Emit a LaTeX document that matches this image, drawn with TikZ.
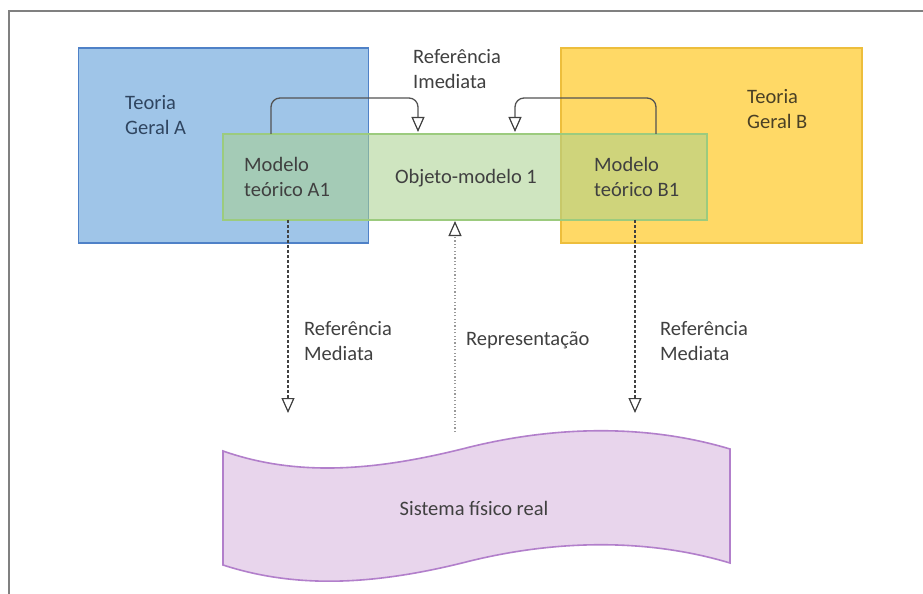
\documentclass[tikz,border=0pt]{standalone}
\usepackage{fontspec}
\setmainfont{Carlito}
\usetikzlibrary{arrows.meta}
\definecolor{blueF}{HTML}{9FC5E8}
\definecolor{blueD}{HTML}{4F81C7}
\definecolor{yelF}{HTML}{FFD966}
\definecolor{yelD}{HTML}{EDBE3C}
\definecolor{grnF}{HTML}{A9D18E}
\definecolor{grnD}{HTML}{9CCB7E}
\definecolor{purF}{HTML}{E8D5EC}
\definecolor{purD}{HTML}{B27FCB}
\definecolor{txt}{HTML}{404040}
\definecolor{txtA}{HTML}{2F4560}
\definecolor{txtB}{HTML}{4A4025}
\definecolor{frameG}{HTML}{808080}
\tikzset{
  lbl/.style={font=\fontsize{20.5bp}{24.5bp}\selectfont, text=txt, align=left, inner sep=0pt, anchor=west},
  boxA/.style={draw=blueD, fill=blueF, line width=1.3bp, inner sep=0pt},
  boxB/.style={draw=yelD, fill=yelF, line width=1.3bp, inner sep=0pt},
  boxG/.style={draw=grnD, fill=grnF, fill opacity=0.55, line width=1.3bp, inner sep=0pt},
  tip/.style={-{Triangle[open, length=15bp, width=13bp, line width=1.2bp, color=txt]}},
  conn/.style={tip, draw=txt!90, line width=1.3bp, rounded corners=9bp},
  dconn/.style={tip, draw=txt, line width=1.1bp, dash pattern=on 3bp off 2bp},
  pconn/.style={tip, draw=gray!80, line width=1.1bp, dash pattern=on 1.2bp off 2.2bp},
}
\begin{document}
\begin{tikzpicture}[x=1bp, y=-1bp]
\useasboundingbox (0,0) rectangle (923,594);
\fill[white] (0,0) rectangle (923,594);
% frame
\draw[frameG, line width=1.6bp] (9,594) -- (9,11) -- (923,11);
% theory boxes
\node[boxA, minimum width=290bp, minimum height=195bp] (TA) at (223.5,145.5) {};
\node[boxB, minimum width=301bp, minimum height=195bp] (TB) at (711.5,145.5) {};
% object-model box
\node[boxG, minimum width=484bp, minimum height=86bp] (G) at (465,177) {};
% wave (real physical system)
\draw[draw=purD, fill=purF, line width=1.6bp]
  (223,451) .. controls (300,478) and (380,470) .. (470,447)
            .. controls (560,425) and (650,425) .. (730,449)
  -- (730,563)
            .. controls (650,539) and (560,539) .. (470,561)
            .. controls (380,584) and (300,590) .. (223,565) -- cycle;
\node[lbl, anchor=center] (S) at (474,508) {Sistema físico real};
% texts
\node[lbl, text=txtA] (tA) at (125,115) {Teoria\\Geral A};
\node[lbl, text=txtB] (tB) at (747,109) {Teoria\\Geral B};
\node[lbl] (mA) at (244,177) {Modelo\\teórico A1};
\node[lbl] (mB) at (594,177) {Modelo\\teórico B1};
\node[lbl, anchor=center] (om) at (466,178) {Objeto-modelo 1};
\node[lbl] (ri) at (413,69) {Referência\\Imediata};
\node[lbl] (rmA) at (304,341) {Referência\\Mediata};
\node[lbl] (rmB) at (660,341) {Referência\\Mediata};
\node[lbl] (rep) at (466,340) {Representação};
% connectors
\coordinate (a0) at (271,134);
\coordinate (a1) at (418,132);
\coordinate (b0) at (656,134);
\coordinate (b1) at (515,132);
\draw[conn] (a0) -- (271,98) -- (418,98) -- (a1);
\draw[conn] (b0) -- (656,98) -- (515,98) -- (b1);
\coordinate (dA0) at (288,220);
\coordinate (dA) at (288,413);
\coordinate (dB0) at (635,220);
\coordinate (dB) at (635,413);
\draw[dconn] (dA0) -- (dA);
\draw[dconn] (dB0) -- (dB);
\coordinate (pS) at (455,432);
\coordinate (pG) at (455,221);
\draw[pconn] (pS) -- (pG);
\end{tikzpicture}
\end{document}
